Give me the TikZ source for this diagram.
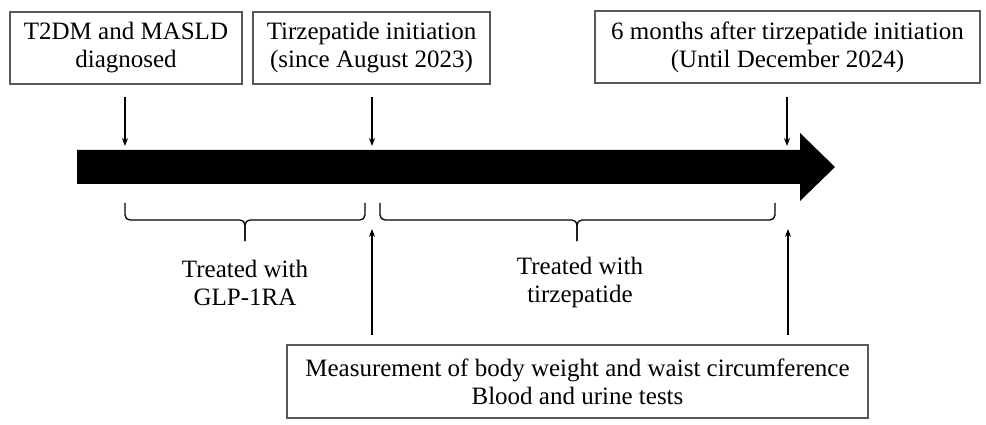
\documentclass[tikz,border=0pt]{standalone}
\usepackage{fontspec}
\setmainfont{Liberation Serif}
\usetikzlibrary{arrows.meta}
\begin{document}
\begin{tikzpicture}[x=1pt,y=-1pt,
  box/.style={draw=black!65,line width=1.1pt,rectangle,align=center,inner sep=0pt,
    font=\fontsize{25}{28}\selectfont},
  lbl/.style={align=center,inner sep=0pt,font=\fontsize{25}{28}\selectfont},
  pointer/.style={line width=1.2pt,-{Stealth[length=8pt,width=6pt]}},
  bracepath/.style={line width=1.3pt,rounded corners=5pt}]
\useasboundingbox (0,0) rectangle (986,425);
\node[box,minimum width=232pt,minimum height=72pt] (b1) at (126,48) {T2DM and MASLD\\diagnosed};
\node[box,minimum width=237pt,minimum height=72pt] (b2) at (371.5,48) {Tirzepatide initiation\\(since August 2023)};
\node[box,minimum width=385pt,minimum height=72pt] (b3) at (787.5,47) {6 months after tirzepatide initiation\\(Until December 2024)};
\node[box,minimum width=581pt,minimum height=73pt] (b4) at (577.5,381.5) {Measurement of body weight and waist circumference\\Blood and urine tests};
% timeline arrow
\fill[black] (77,150) -- (800,150) -- (800,133) -- (835,167) -- (800,201) -- (800,184) -- (77,184) -- cycle;
% down arrows
\coordinate (d1s) at (125,97); \coordinate (d1e) at (125,146);
\coordinate (d2s) at (372,97); \coordinate (d2e) at (372,146);
\coordinate (d3s) at (787,97); \coordinate (d3e) at (787,146);
\draw[pointer] (d1s) -- (d1e);
\draw[pointer] (d2s) -- (d2e);
\draw[pointer] (d3s) -- (d3e);
% up arrows
\coordinate (u1s) at (372,335); \coordinate (u1e) at (372,229);
\coordinate (u2s) at (788,335); \coordinate (u2e) at (788,229);
\draw[pointer] (u1s) -- (u1e);
\draw[pointer] (u2s) -- (u2e);
% braces
\draw[bracepath] (125,203) |- (245,220) -- (245,241);
\draw[bracepath] (365,203) |- (245,220) -- (245,241);
\draw[bracepath] (380,203) |- (577,220) -- (577,241);
\draw[bracepath] (775,203) |- (577,220) -- (577,241);
% labels
\node[lbl] (t1) at (245,283) {Treated with\\GLP-1RA};
\node[lbl] (t2) at (580,282) {Treated with\\tirzepatide};
\end{tikzpicture}
\end{document}
